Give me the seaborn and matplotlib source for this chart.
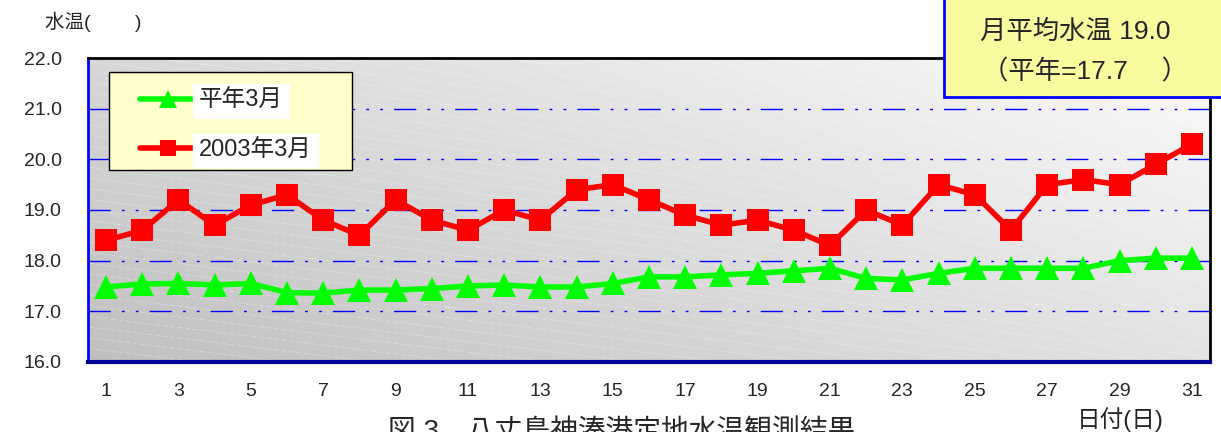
import matplotlib
matplotlib.use('Agg')
import numpy as np
import pandas as pd
import matplotlib.pyplot as plt
import seaborn as sns
from matplotlib.patches import Rectangle
from matplotlib.ticker import FixedLocator, FormatStrFormatter

days = list(range(1, 32))
temp_2003 = [18.4, 18.6, 19.2, 18.7, 19.1, 19.3, 18.8, 18.5, 19.2, 18.8,
             18.6, 19.0, 18.8, 19.4, 19.5, 19.2, 18.9, 18.7, 18.8, 18.6,
             18.3, 19.0, 18.7, 19.5, 19.3, 18.6, 19.5, 19.6, 19.5, 19.9, 20.3]
temp_normal = [17.48, 17.54, 17.55, 17.52, 17.55, 17.37, 17.36, 17.42, 17.42, 17.45,
               17.50, 17.52, 17.48, 17.48, 17.55, 17.68, 17.68, 17.72, 17.75, 17.80,
               17.85, 17.65, 17.62, 17.75, 17.85, 17.85, 17.85, 17.85, 18.00, 18.05, 18.05]
label_normal = '平年3月'
label_2003 = '2003年3月'
yticks = [16, 17, 18, 19, 20, 21, 22]

df = pd.DataFrame({'day': days, 'normal': temp_normal, 'y2003': temp_2003})

sns.set_style('white')
plt.rcParams['font.family'] = ['Liberation Sans', 'Noto Sans CJK JP']

fig = plt.figure(figsize=(12.21, 4.32), dpi=100)
ax = fig.add_axes([88 / 1221, 1 - 362 / 432, 1122 / 1221, 304 / 432])

# gradient background, light top-right to darker bottom-left
gx, gy = np.meshgrid(np.linspace(0, 1, 200), np.linspace(0, 1, 100))
grad = 0.75 + 0.23 * (0.6 * gx + 0.4 * (1 - gy))
ax.imshow(grad, cmap='gray', vmin=0, vmax=1, aspect='auto',
          extent=[0.5, 31.5, 16, 22], zorder=0, interpolation='bilinear')
# faint diagonal streaks
for k in np.arange(-0.2, 1.6, 0.035):
    ax.plot([0, 1], [k, k - 0.45], transform=ax.transAxes, color='white',
            lw=0.6, alpha=0.35, ls=(0, (6, 3)), zorder=0.5)

for v in yticks[1:-1]:
    ax.axhline(v, color='#0000ff', lw=1, ls=(0, (16, 8, 2, 8, 2, 8)), zorder=1)

sns.lineplot(data=df, x='day', y='normal', ax=ax, color='#00ff00', lw=4,
             marker='^', markersize=17, markeredgewidth=0, label=label_normal, zorder=3)
sns.lineplot(data=df, x='day', y='y2003', ax=ax, color='#ff0000', lw=4,
             marker='s', markersize=16, markeredgewidth=0, label=label_2003, zorder=4)

ax.set_xlim(0.5, 31.5)
ax.set_ylim(16, 22)
ax.set_xlabel('')
ax.set_ylabel('')
ax.xaxis.set_major_locator(FixedLocator(days[::2]))
ax.xaxis.set_minor_locator(FixedLocator([d + 0.5 for d in days[:-1]]))
ax.set_yticks(yticks)
ax.yaxis.set_major_formatter(FormatStrFormatter('%.1f'))
ax.tick_params(axis='x', which='major', length=0, pad=15, labelsize=14)
ax.tick_params(axis='x', which='minor', length=5, width=1, color='#0000ff', direction='in')
ax.tick_params(axis='y', length=5, width=1, color='#0000ff', direction='in', pad=19, labelsize=14)

for side, col, w in [('left', '#0000ff', 2), ('bottom', '#000099', 3),
                     ('top', 'black', 2), ('right', 'black', 2)]:
    ax.spines[side].set_visible(True)
    ax.spines[side].set_color(col)
    ax.spines[side].set_linewidth(w)

# legend box drawn separately so the entries can sit where the original has them
ax.add_patch(Rectangle((21 / 1122, 192 / 304), 243 / 1122, 98 / 304, transform=ax.transAxes,
                       facecolor='#ffffcc', edgecolor='black', lw=1, zorder=5))
leg = ax.legend(loc='upper left', bbox_to_anchor=(52 / 1122, 272 / 304), borderaxespad=0,
                frameon=False, fontsize=17, handlelength=2.4, handletextpad=0.1,
                labelspacing=1.17, borderpad=0, markerscale=0.75)
leg.set_zorder(6)
for t in leg.get_texts():
    t.set_backgroundcolor('white')

# annotation box top-right
fig.patches.append(Rectangle((944 / 1221, 1 - 97 / 432), 300 / 1221, 110 / 432,
                             transform=fig.transFigure, facecolor='#fafa9e',
                             edgecolor='#0000ff', lw=2, zorder=5))
fig.text(1075 / 1221, 1 - 32 / 432, '月平均水温 19.0', ha='center', va='center',
         fontsize=19, zorder=6)
fig.text(982 / 1221, 1 - 72 / 432, '（平年=17.7　 ）', ha='left', va='center',
         fontsize=19, zorder=6)

fig.text(45 / 1221, 1 - 22 / 432, '水温(　　 )', ha='left', va='center', fontsize=14)
fig.text(1120 / 1221, 1 - 420 / 432, '日付(日)', ha='center', va='center', fontsize=17)
fig.text(622 / 1221, 1 - 419 / 432, '図 3　八丈島神湊港定地水温観測結果', ha='center',
         va='top', fontsize=20)

fig.savefig('out.png', dpi=100)
